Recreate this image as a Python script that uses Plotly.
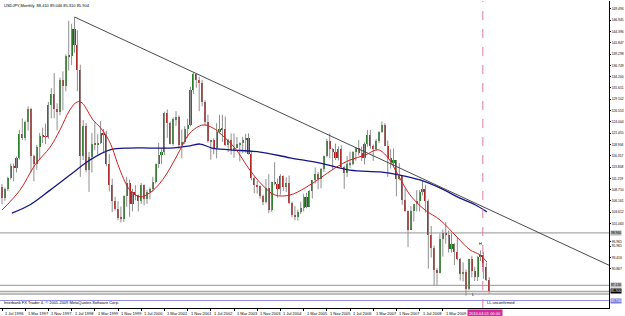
import plotly.graph_objects as go

# ---------------- data (USDJPY monthly, Jul 1996 - Jul 2010) ----------------
opens = [109.3,106.8,108.9,111.4,114.0,113.6,
 115.9,121.3,120.3,123.9,126.8,116.4,114.6,118.4,120.9,120.7,120.6,127.8,
 130.4,127.0,126.2,133.5,132.0,138.9,138.8,144.9,141.4,135.8,116.2,123.1,
 113.2,116.1,119.0,118.9,119.3,121.6,121.0,114.6,109.8,106.1,104.3,102.3,
 102.2,107.2,110.3,105.4,108.2,107.6,106.1,109.8,106.7,108.2,108.9,110.5,
 114.4,116.5,117.3,125.9,123.7,118.9,124.6,125.0,118.7,119.4,122.4,123.4,
 131.1,134.7,133.5,132.7,128.5,124.0,119.6,119.8,118.2,121.7,122.5,122.3,
 118.7,119.9,117.7,118.1,119.0,119.3,119.8,120.4,116.8,111.4,109.7,109.5,
 107.2,105.9,109.1,104.2,110.4,110.0,108.8,111.7,109.2,110.1,105.8,103.1,
 102.6,103.7,104.6,107.1,104.9,108.4,110.9,112.3,111.2,113.4,116.3,119.7,
 117.9,117.2,115.8,117.8,113.9,112.5,114.4,114.6,117.3,118.1,116.9,115.8,
 119.1,121.0,118.5,117.8,119.6,121.7,123.2,118.6,115.8,114.9,115.3,111.2,
 111.7,106.4,103.8,99.7,104.0,105.5,106.2,108.1,108.8,106.1,98.4,95.5,
 90.6,89.9,97.6,98.9,98.5,95.3,96.4,94.7,93.0,89.7,90.1,86.3,
 93.0,90.3,88.9,93.5,94.0,91.2,88.4]
highs = [110.0,109.2,111.6,114.6,114.6,116.2,
 122.2,124.8,124.3,127.5,127.2,116.6,118.8,121.5,122.7,123.6,128.5,131.6,
 135.0,128.2,134.0,135.4,139.2,146.8,146.1,147.66,144.7,136.9,124.4,123.7,
 117.2,121.5,123.9,121.2,124.2,122.4,122.0,116.7,111.2,107.1,106.1,104.9,
 107.4,111.6,111.0,108.9,109.7,107.6,110.2,109.9,108.7,109.2,111.6,114.6,
 119.3,118.0,126.3,126.8,124.1,125.0,126.4,125.5,122.3,123.0,124.7,131.9,
 135.2,134.9,134.2,133.5,128.9,125.6,120.0,120.3,123.7,125.6,125.6,125.2,
 120.2,121.4,121.4,120.6,119.4,120.6,121.3,121.4,117.4,111.6,110.7,109.7,
 107.6,111.1,112.2,110.5,114.9,111.2,112.2,111.9,111.5,111.9,106.0,105.0,
 104.2,106.0,107.8,108.0,108.6,110.9,113.7,112.7,113.6,116.4,120.2,121.4,
 118.1,119.1,118.5,118.7,114.1,116.3,117.3,117.4,118.3,119.9,118.4,119.4,
 122.2,122.2,118.9,120.1,121.9,124.1,123.7,119.8,117.8,118.0,115.4,114.7,
 111.8,108.9,104.0,105.0,105.5,108.6,108.6,110.7,109.8,106.5,100.5,96.1,
 91.0,98.8,99.7,101.4,99.5,98.9,96.6,97.8,93.3,92.3,90.7,93.1,
 93.8,91.3,93.7,95.0,94.7,92.3,89.0]
lows = [105.4,106.2,108.4,111.0,110.6,112.6,
 115.5,119.9,119.8,122.0,112.6,110.6,113.2,115.4,119.2,119.0,120.2,124.8,
 124.8,122.1,125.5,126.6,130.9,135.6,136.8,139.6,130.9,111.6,115.4,112.6,
 108.2,112.6,117.6,116.6,119.0,117.2,114.0,108.3,103.6,104.0,101.8,101.3,
 101.4,104.8,102.6,103.8,106.3,103.8,105.5,105.2,105.5,106.5,108.2,110.1,
 113.6,114.5,116.6,120.4,118.9,118.6,123.1,117.9,115.8,119.0,120.4,123.0,
 130.3,131.7,126.4,127.5,123.1,119.3,115.5,116.7,115.8,121.4,119.5,118.6,
 117.2,116.6,115.9,118.0,115.1,116.9,117.0,116.6,110.8,107.9,107.8,106.7,
 105.2,105.6,103.4,103.7,109.7,106.9,107.6,108.4,108.2,105.4,102.5,101.8,
 101.7,103.2,103.8,104.5,104.9,106.7,110.1,108.8,109.0,112.7,116.0,115.8,
 113.4,115.4,115.3,113.4,108.9,111.6,113.6,114.2,115.2,116.4,115.2,114.4,
 118.4,117.9,115.2,117.4,119.2,121.5,118.5,111.6,113.5,114.1,107.2,110.8,
 105.3,103.7,95.8,99.7,101.5,103.8,103.8,107.4,103.5,90.9,93.4,87.1,
 87.1,89.8,93.6,96.5,94.5,94.5,91.7,92.8,88.2,88.0,84.8,86.0,
 88.9,88.1,88.1,92.6,88.6,88.1,85.3]
closes = [106.8,108.9,111.4,114.0,113.6,115.9,
 121.3,120.3,123.9,126.8,116.4,114.6,118.4,120.9,120.7,120.6,127.8,130.4,
 127.0,126.2,133.5,132.0,138.9,138.8,144.9,141.4,135.8,116.2,123.1,113.2,
 116.1,119.0,118.9,119.3,121.6,121.0,114.6,109.8,106.1,104.3,102.3,102.2,
 107.2,110.3,105.4,108.2,107.6,106.1,109.8,106.7,108.2,108.9,110.5,114.4,
 116.5,117.3,125.9,123.7,118.9,124.6,125.0,118.7,119.4,122.4,123.4,131.1,
 134.7,133.5,132.7,128.5,124.0,119.6,119.8,118.2,121.7,122.5,122.3,118.7,
 119.9,117.7,118.1,119.0,119.3,119.8,120.4,116.8,111.4,109.7,109.5,107.2,
 105.9,109.1,104.2,110.4,110.0,108.8,111.7,109.2,110.1,105.8,103.1,102.6,
 103.7,104.6,107.1,104.9,108.4,110.9,112.3,111.2,113.4,116.3,119.7,117.9,
 117.2,115.8,117.8,113.9,112.5,114.4,114.6,117.3,118.1,116.9,115.8,119.1,
 121.0,118.5,117.8,119.6,121.7,123.2,118.6,115.8,114.9,115.3,111.2,111.7,
 106.4,103.8,99.7,104.0,105.5,106.2,108.1,108.8,106.1,98.4,95.5,90.6,
 89.9,97.6,98.9,98.5,95.3,96.4,94.7,93.0,89.7,90.1,86.3,93.0,
 90.3,88.9,93.5,94.0,91.2,88.4,85.9]

# moving averages (month index, price)
red_ma_x = [0,6.2,11.4,16.6,20,23.4,25.9,27.6,29.3,31.4,33.8,36.2,37.9,40.7,44.1,47.6,51,54.5,58,61.4,
            64.8,69.3,72.8,75.9,80.3,85.5,89.7,94.1,99.3,104.5,109.7,114.8,120,125.2,129.7,133.1,136.6,
            140.7,145.9,151,156.9,161.4,164.8,167.2]
red_ma_y = [104.1,108.6,114.3,118.3,122.2,126.7,128.5,128.3,126.7,124.4,122.8,120.6,118.3,113.1,108.6,107.1,
            108.0,110.2,113.6,117.7,121.5,123.3,122.6,121.0,118.1,113.1,109.8,107.5,107.5,109.1,111.3,113.6,
            115.4,116.5,117.7,115.9,112.0,107.5,104.1,101.9,98.0,95.1,94.0,92.4]
blue_ma_x = [3.4,9.7,16.6,23.4,30.3,37.2,44.1,51,57.9,64.8,68.3,72.4,78.6,89,99.3,109.7,120,130.3,137.2,
             144.1,151,157.9,163.1,167.2]
blue_ma_y = [103.4,105.3,108.6,112.0,115.4,117.7,118.1,118.1,118.1,118.6,119.0,118.1,117.7,117.2,115.9,114.7,
             113.1,112.7,112.0,110.9,109.1,106.8,105.3,103.7]

# trend line (month index, price)
trend_x = [25, 210.3]
trend_y = [147.66, 91.35]

# horizontal levels
gray_levels = [98.96, 87.13, 85.73, 85.17]
purple_level = 83.70

# price-axis tick labels
ytick_vals = [149.494,146.945,144.396,141.847,139.298,136.749,134.200,131.651,129.102,126.553,124.004,
              121.455,118.906,116.357,113.808,111.259,108.710,106.161,103.612,101.063,96.965,95.965,
              93.416,90.867]
# date labels (month index, text)
date_ticks = [0,8,16,24,32,40,48,56,64,72,80,88,96,104,112,120,128,136,144,152]
date_labels = ["1 Jul 1996","1 Mar 1997","1 Nov 1997","1 Jul 1998","1 Mar 1999","1 Nov 1999",
               "1 Jul 2000","1 Mar 2001","1 Nov 2001","1 Jul 2002","1 Mar 2003","1 Nov 2003",
               "1 Jul 2004","1 Mar 2005","1 Nov 2005","1 Jul 2006","1 Mar 2007","1 Nov 2007",
               "1 Jul 2008","1 Mar 2009"]

header = "USDJPY,Monthly  88.410 89.046 85.310 85.904"

# ---------------- figure ----------------
idx = list(range(len(closes)))
fig = go.Figure()

wx, wy = [], []
for i, (h, l) in enumerate(zip(highs, lows)):
    wx += [i, i, None]
    wy += [l, h, None]
fig.add_trace(go.Scatter(x=wx, y=wy, mode="lines", line=dict(color="#8f8f8f", width=1),
                         hoverinfo="skip", showlegend=False))

base = [min(o, c) for o, c in zip(opens, closes)]
hgt = [max(abs(c - o), 0.15) for o, c in zip(opens, closes)]
cols = ["#1e7d1e" if c >= o else "#b41a1a" for o, c in zip(opens, closes)]
fig.add_trace(go.Bar(x=idx, base=base, y=hgt, width=0.72, marker=dict(color=cols, line=dict(width=0)),
                     showlegend=False))

fig.add_trace(go.Scatter(x=blue_ma_x, y=blue_ma_y, mode="lines", line=dict(color="#15158a", width=1.3, shape="spline"),
                         showlegend=False))
fig.add_trace(go.Scatter(x=red_ma_x, y=red_ma_y, mode="lines", line=dict(color="#d02020", width=1, shape="spline"),
                         showlegend=False))
fig.add_trace(go.Scatter(x=trend_x, y=trend_y, mode="lines", line=dict(color="#4a4a4a", width=1),
                         showlegend=False))

for lv in gray_levels:
    fig.add_hline(y=lv, line=dict(color="#a9a9a9", width=1.3), layer="below")
fig.add_hline(y=purple_level, line=dict(color="#8f8fe8", width=1), layer="below")

# crosshair dashed line
fig.add_vline(x=165.8, line=dict(color="#e07aa8", width=1, dash="dash"))

fnt = "Liberation Sans"
ann = []
for t, lab in zip(date_ticks, date_labels):
    ann.append(dict(x=t, y=0, xref="x", yref="paper", text=lab, showarrow=False, xanchor="left",
                    yanchor="top", xshift=1, yshift=-1, font=dict(size=4, color="#000", family=fnt)))
ann.append(dict(x=160.4, y=0, xref="x", yref="paper", text="2010.04.01 00:00", showarrow=False,
                xanchor="left", yanchor="top", yshift=-1, bgcolor="#d22aa0",
                font=dict(size=4, color="#fff", family=fnt)))
ann.append(dict(x=0.004, y=0.999, xref="paper", yref="paper", text=header, showarrow=False,
                xanchor="left", yanchor="top", font=dict(size=4, color="#000", family=fnt)))
ann.append(dict(x=0.004, y=0.004, xref="paper", yref="paper",
                text="Interbank FX Trader 4, © 2001-2009 MetaQuotes Software Corp.", showarrow=False,
                xanchor="left", yanchor="bottom", font=dict(size=4, color="#000", family=fnt)))
ann.append(dict(x=165, y=96.6, text="H", showarrow=False, font=dict(size=4, color="#000", family=fnt)))
ann.append(dict(x=162.6, y=85.0, text="L", showarrow=False, font=dict(size=4, color="#000", family=fnt)))
ann.append(dict(x=166.4, y=83.2, text="LL unconfirmed", showarrow=False, xanchor="left",
                font=dict(size=4, color="#000", family=fnt)))
# boxed price labels on the right axis
for lv, bg, fg in [(gray_levels[0], "#b8b8b8", "#000"), (gray_levels[1], "#b8b8b8", "#000"),
                   (closes[-1], "#000000", "#fff"), (purple_level, "#7d7de0", "#fff")]:
    ann.append(dict(x=1, y=lv, xref="paper", yref="y", text=f"{lv:.3f}", showarrow=False, xanchor="left",
                    xshift=1, bgcolor=bg, borderpad=0, font=dict(size=3.3, color=fg, family=fnt)))

fig.update_layout(
    width=625, height=316, margin=dict(l=0, r=16, t=1, b=8),
    paper_bgcolor="white", plot_bgcolor="white", bargap=0, barmode="overlay",
    annotations=ann, showlegend=False,
    xaxis=dict(range=[-0.69, 209.3], showgrid=False, zeroline=False, showline=True, linecolor="#000",
               linewidth=1, tickvals=date_ticks, showticklabels=False, ticks="outside", ticklen=2,
               tickcolor="#000", fixedrange=True),
    yaxis=dict(range=[82.01, 151.27], side="right", showgrid=False, zeroline=False, showline=True,
               linecolor="#000", linewidth=1, tickvals=ytick_vals, ticktext=[f"{v:.3f}" for v in ytick_vals],
               ticks="outside", ticklen=1, tickcolor="#000", tickfont=dict(size=3.3, family=fnt, color="#000"),
               automargin=False, fixedrange=True),
)

fig.write_html("out.html")
